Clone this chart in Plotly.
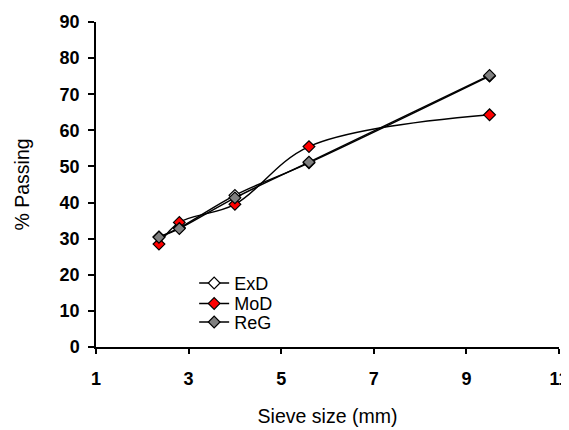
import plotly.graph_objects as go

sieve = [2.36, 2.8, 4.0, 5.6, 9.5]
exd = [30.5, 33.0, 42.0, 51.0, 75.0]
mod = [28.5, 34.5, 39.5, 55.5, 64.3]
reg = [30.4, 32.8, 41.3, 51.2, 75.2]

x_ticks = [1, 3, 5, 7, 9, 11]
y_ticks = [0, 10, 20, 30, 40, 50, 60, 70, 80, 90]

series = [("ExD", exd, "white", "legend"),
          ("MoD", mod, "red", "legend2"),
          ("ReG", reg, "#808080", "legend3")]

fig = go.Figure()
for name, vals, col, leg in series:
    fig.add_trace(go.Scatter(
        x=sieve, y=vals, name=name, mode="lines+markers", legend=leg,
        line=dict(color="black", width=1.5, shape="spline", smoothing=1.0),
        marker=dict(symbol="diamond", size=9, color=col, line=dict(color="black", width=1.2)),
    ))

leg_common = dict(xanchor="left", yanchor="top", bgcolor="rgba(0,0,0,0)",
                  font=dict(size=18), itemwidth=30)
fig.update_layout(
    width=569, height=422,
    margin=dict(l=88, r=18, t=14, b=83, autoexpand=False),
    paper_bgcolor="white", plot_bgcolor="white",
    font=dict(family="Liberation Sans, Arial, sans-serif", size=16, color="black"),
    showlegend=True,
    legend=dict(x=0.212, y=0.253, **leg_common),
    legend2=dict(x=0.212, y=0.190, **leg_common),
    legend3=dict(x=0.212, y=0.133, **leg_common),
)
fig.update_xaxes(
    range=[1, 11], tickvals=x_ticks, ticktext=[str(v) for v in x_ticks],
    showline=True, linecolor="black", linewidth=1.5, automargin=False,
    ticks="outside", ticklen=5, tickwidth=1.5, tickcolor="black",
    showgrid=False, zeroline=False, ticklabelstandoff=10,
    tickfont=dict(size=18, weight="bold"),
    title=dict(text="Sieve size (mm)", font=dict(size=19.5), standoff=21),
)
fig.update_yaxes(
    range=[0, 90], tickvals=y_ticks, ticktext=[str(v) for v in y_ticks],
    showline=True, linecolor="black", linewidth=1.5, automargin=False,
    ticks="outside", ticklen=6, tickwidth=1.5, tickcolor="black",
    showgrid=False, zeroline=False, ticklabelstandoff=5,
    tickfont=dict(size=18, weight="bold"),
    title=dict(text="% Passing", font=dict(size=19.5), standoff=25),
)

fig.write_html("out.html")
